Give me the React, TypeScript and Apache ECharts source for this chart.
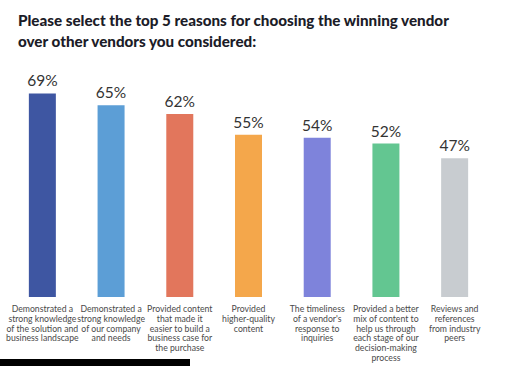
import React, { useEffect, useRef } from "react";
import * as echarts from "echarts";

const categories = [
  "Demonstrated a\nstrong knowledge\nof the solution and\nbusiness landscape",
  "Demonstrated a\nstrong knowledge\nof our company\nand needs",
  "Provided content\nthat made it\neasier to build a\nbusiness case for\nthe purchase",
  "Provided\nhigher-quality\ncontent",
  "The timeliness\nof a vendor's\nresponse to\ninquiries",
  "Provided a better\nmix of content to\nhelp us through\neach stage of our\ndecision-making\nprocess",
  "Reviews and\nreferences\nfrom industry\npeers",
];
const values = [69, 65, 62, 55, 54, 52, 47];
const colors = ["#3E56A2", "#5C9ED6", "#E2765C", "#F4A74B", "#7E83DB", "#63C691", "#C8CCD0"];
const title = "Please select the top 5 reasons for choosing the winning vendor\nover other vendors you considered:";

export default function App() {
  const ref = useRef<HTMLDivElement>(null);
  useEffect(() => {
    if (!ref.current) return;
    const chart = echarts.init(ref.current, null, { renderer: "svg" });
    chart.setOption({
      animation: false,
      title: {
        text: title,
        left: 13,
        top: 5,
        textStyle: {
          fontFamily: "Lato",
          fontWeight: 900,
          fontSize: 15.2,
          lineHeight: 20.5,
          color: "#1c1c28",
        },
      },
      grid: { left: 8, width: 481, top: 2, bottom: 69 },
      xAxis: {
        type: "category",
        data: categories,
        axisLine: { show: false },
        axisTick: { show: false },
        axisLabel: {
          interval: 0,
          fontFamily: "Lato",
          fontSize: 8.7,
          lineHeight: 9.7,
          color: "#4a4a4a",
          margin: 7,
          align: "center",
        },
      },
      yAxis: { type: "value", min: 0, max: 100, show: false },
      series: [
        {
          type: "bar",
          barWidth: 27,
          data: values.map((v, i) => ({ value: v, itemStyle: { color: colors[i] } })),
          label: {
            show: true,
            position: "top",
            distance: 5,
            formatter: "{c}%",
            fontFamily: "Lato",
            fontSize: 15.5,
            color: "#333",
          },
        },
      ],
      graphic: [
        { type: "rect", shape: { x: 0, y: 359, width: 190, height: 7 }, style: { fill: "#000" } },
      ],
    });
    return () => chart.dispose();
  }, []);
  return <div ref={ref} style={{ width: 530, height: 366, position: "absolute", left: 0, top: 0 }} />;
}
